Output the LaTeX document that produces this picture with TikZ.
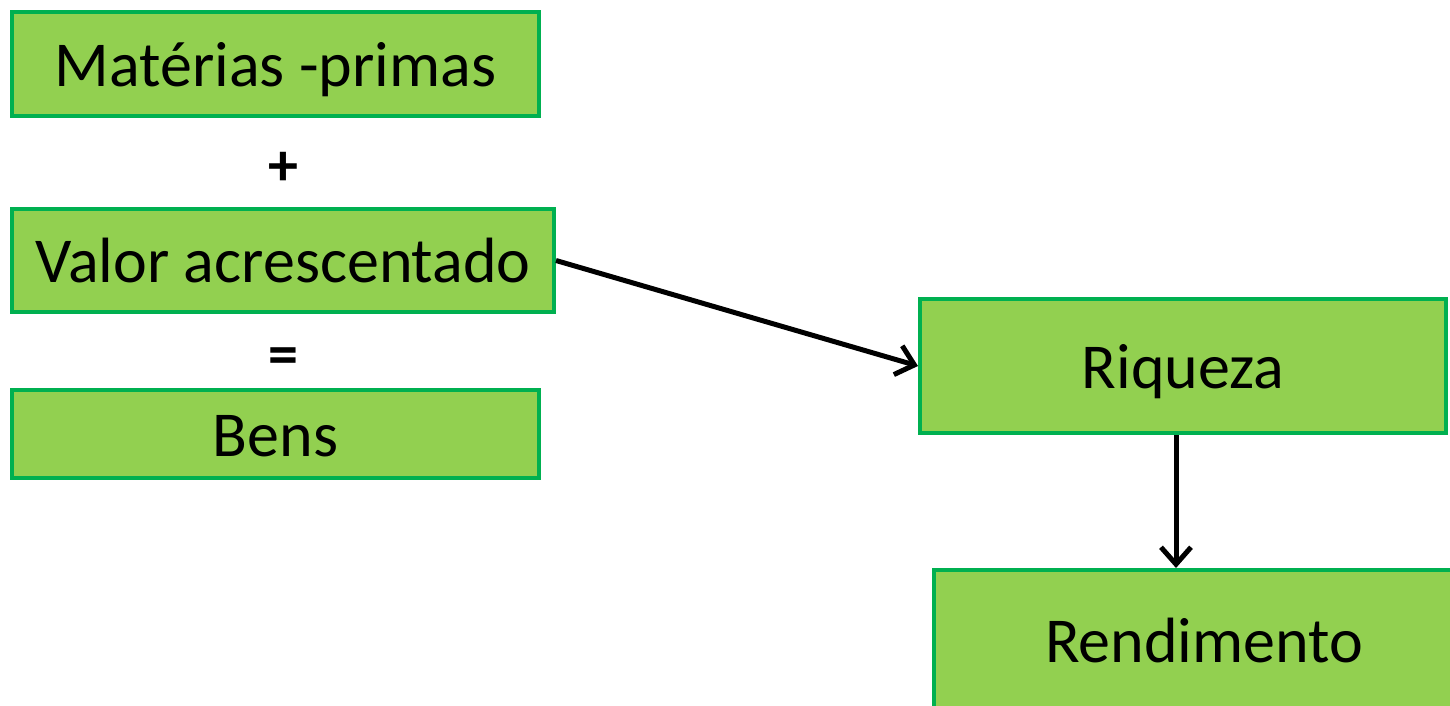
\documentclass[tikz,border=0pt]{standalone}
\usepackage{fontspec}
\setmainfont{Carlito}
\usetikzlibrary{arrows.meta}
\definecolor{boxfill}{HTML}{92D050}
\definecolor{boxline}{HTML}{00B050}

\tikzset{
	greenbox/.style={draw=boxline, fill=boxfill, line width=4pt, inner sep=0pt,
		text height=44pt, text depth=0pt, font=\fontsize{64}{76}\selectfont},
	sign/.style={font=\fontsize{60}{72}\selectfont\bfseries},
	flow/.style={-{Straight Barb[length=17pt,width=30pt,line width=5pt]}, line width=5pt}
}

\begin{document}
\begin{tikzpicture}[x=1pt, y=-1pt]
	\clip (0,0) rectangle (1450,705);
	\node[greenbox, minimum width=527pt, minimum height=104pt] (M) at (275.5,64) {Matérias -primas};
	\node[sign] (P) at (283,169) {+};
	\node[greenbox, minimum width=542pt, minimum height=103pt] (V) at (283,260.5) {Valor acrescentado};
	\node[sign] (Q) at (283,361) {=};
	\node[greenbox, minimum width=527pt, minimum height=88pt] (B) at (275.5,434) {Bens};
	\node[greenbox, minimum width=526pt, minimum height=134pt] (R) at (1183,366) {Riqueza};
	\node[greenbox, minimum width=540pt, minimum height=140pt] (E) at (1204,640) {Rendimento};
	
	\draw[flow] (V.east) -- (R.west);
	\draw[flow] ([xshift=-7pt]R.south) -- ([xshift=-7pt]R.south |- E.north);
\end{tikzpicture}
\end{document}
